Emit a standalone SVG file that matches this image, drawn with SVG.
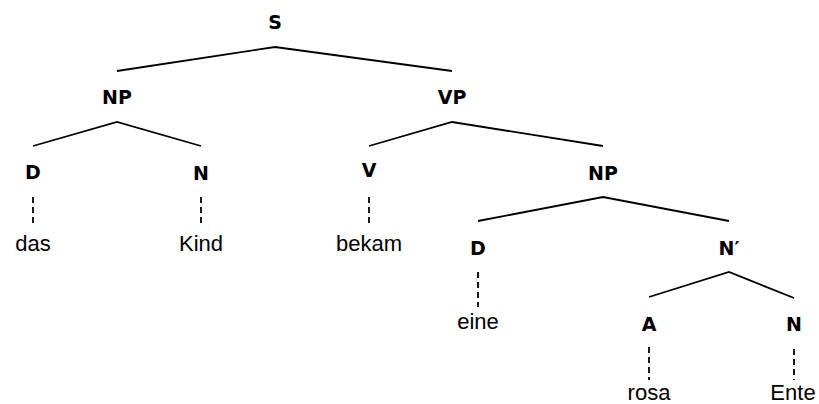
<svg xmlns="http://www.w3.org/2000/svg" width="819" height="404" viewBox="0 0 819 404">
  <style>
    .cat { font-family: "DejaVu Sans", "Liberation Sans", sans-serif; font-weight: bold; font-size: 19px; fill: #000; text-anchor: middle; }
    .word { font-family: "Liberation Sans", Arial, sans-serif; font-size: 22px; fill: #000; text-anchor: middle; }
    .branch { stroke: #000; stroke-width: 1.8; fill: none; }
    .lex { stroke: #000; stroke-width: 1.8; fill: none; stroke-dasharray: 6 4; }
  </style>
  <rect width="819" height="404" fill="#fff"/>

  <!-- tree branches -->
  <g id="connectors">
    <polyline class="branch" points="117,71 275,47 452,71"/>
    <polyline class="branch" points="33,146 117,122 201,146"/>
    <polyline class="branch" points="369,146 452,122 603,146"/>
    <polyline class="branch" points="478,221 603,197 729,221"/>
    <polyline class="branch" points="649,297 729,272 794,298"/>
    <line class="lex" x1="33" y1="197" x2="33" y2="227"/>
    <line class="lex" x1="201" y1="197" x2="201" y2="227"/>
    <line class="lex" x1="369" y1="197" x2="369" y2="227"/>
    <line class="lex" x1="478" y1="272" x2="478" y2="307"/>
    <line class="lex" x1="649" y1="347" x2="649" y2="380"/>
    <line class="lex" x1="794" y1="349" x2="794" y2="380"/>
  </g>

  <!-- category nodes -->
  <g id="S"><text class="cat" x="275" y="29">S</text></g>
  <g id="NP1"><text class="cat" x="117" y="104">NP</text></g>
  <g id="VP"><text class="cat" x="452" y="104">VP</text></g>
  <g id="D1"><text class="cat" x="33" y="179">D</text></g>
  <g id="N1"><text class="cat" x="201" y="180">N</text></g>
  <g id="V"><text class="cat" x="369" y="177">V</text></g>
  <g id="NP2"><text class="cat" x="603" y="180">NP</text></g>
  <g id="D2"><text class="cat" x="478" y="255">D</text></g>
  <g id="Nbar"><text class="cat" x="729" y="255">N′</text></g>
  <g id="A"><text class="cat" x="649" y="331">A</text></g>
  <g id="N2"><text class="cat" x="794" y="331">N</text></g>

  <!-- terminal words -->
  <g id="w-das"><text class="word" x="33" y="251">das</text></g>
  <g id="w-Kind"><text class="word" x="201" y="251">Kind</text></g>
  <g id="w-bekam"><text class="word" x="369" y="251">bekam</text></g>
  <g id="w-eine"><text class="word" x="478" y="329">eine</text></g>
  <g id="w-rosa"><text class="word" x="649" y="400">rosa</text></g>
  <g id="w-Ente"><text class="word" x="793" y="400">Ente</text></g>
</svg>
